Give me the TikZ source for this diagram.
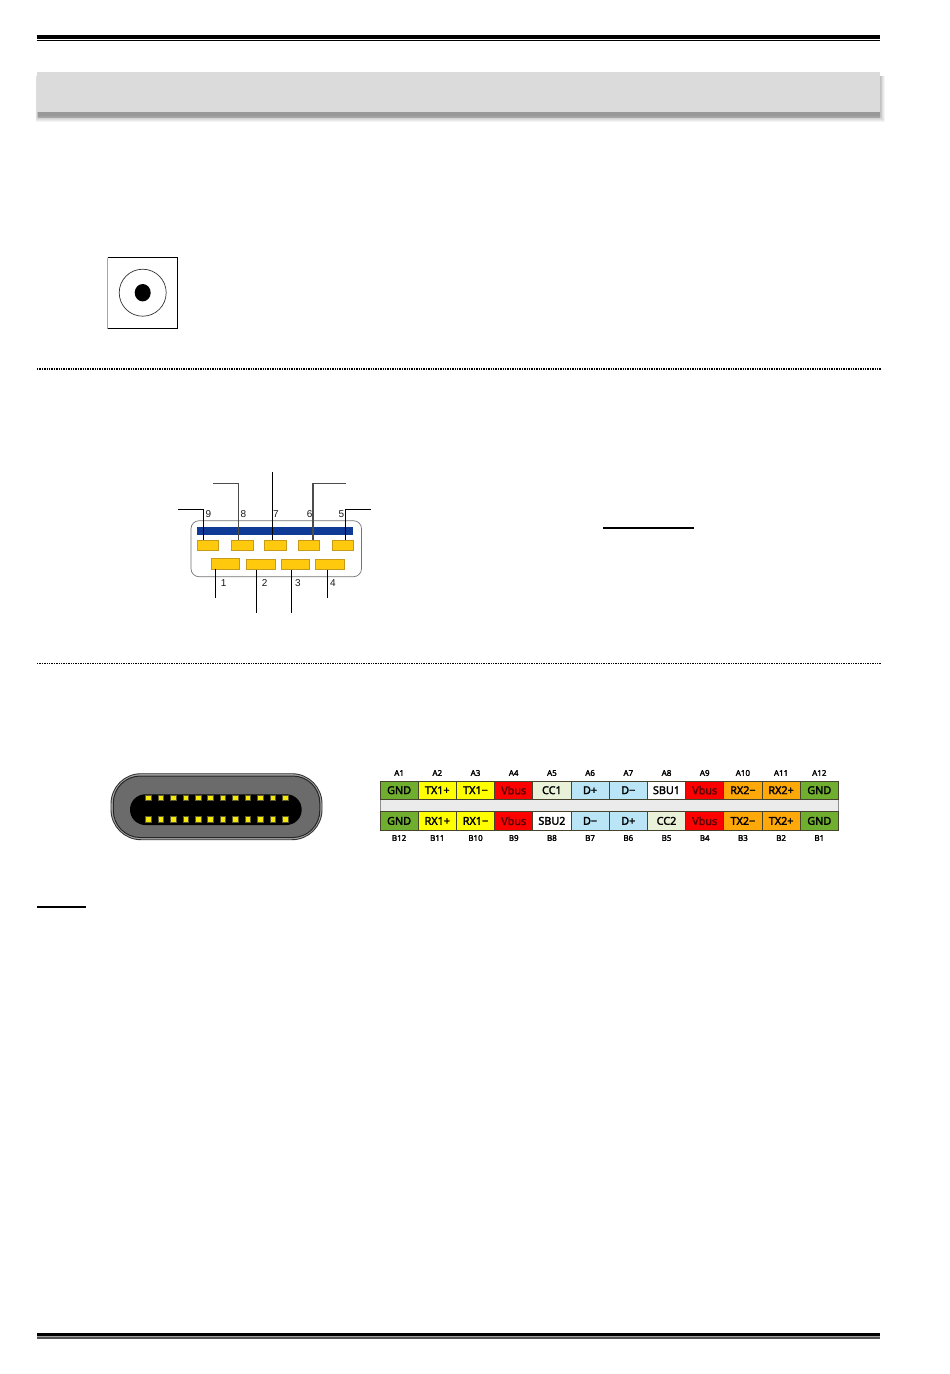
\documentclass[tikz,border=0pt]{standalone}
\usepackage{fontspec}
\setmainfont{Liberation Sans}
\newfontfamily\cellfont[FakeBold=2.2]{Noto Sans}
\definecolor{gndc}{HTML}{6FAE2E}
\definecolor{txc}{HTML}{FFFF00}
\definecolor{vbc}{HTML}{FF0000}
\definecolor{ccc}{HTML}{E9F2D8}
\definecolor{dc}{HTML}{B9E5F6}
\definecolor{sbc}{HTML}{FFFFFF}
\definecolor{rxc}{HTML}{FFA80A}
\definecolor{vbt}{HTML}{5A0000}
\definecolor{pinc}{HTML}{FFC90E}
\definecolor{pinb}{HTML}{C79A1A}
\definecolor{bluec}{HTML}{0F3A96}
\tikzset{
  x=1pt,y=-1pt,
  box/.style={inner sep=0pt,outer sep=0pt,anchor=north west},
  leader/.style={draw=black,line width=1pt},
  usbnum/.style={font=\fontsize{10}{11}\selectfont,text=black!90,inner sep=0pt},
  usbpin/.style={box,draw=pinb,line width=0.4pt,fill=pinc,minimum height=10.5pt},
  topnum/.style={font=\cellfont\fontsize{8}{9}\selectfont,inner sep=0pt,text=black},
  cell/.style={box,draw=black!65!olive,line width=0.8pt,minimum width=38.2pt,minimum height=18.4pt,font=\cellfont\fontsize{10.8}{11}\selectfont},
  cpin/.style={inner sep=0pt,minimum size=5.6pt,fill=yellow!95!black,draw=black!45!olive,line width=0.3pt},
  rule/.style={line width=1.2pt,black,dash pattern=on 1.4pt off 1pt},
  under/.style={line width=1.4pt,black}
}
\newcommand{\vb}{\textcolor{vbt}{Vbus}}
\begin{document}
\begin{tikzpicture}
\useasboundingbox (0,0) rectangle (950,1374);
\fill[white] (0,0) rectangle (950,1374);
% header rule
\coordinate (ha) at (36.5,37); \coordinate (hb) at (880,37);
\coordinate (hc) at (36.5,40.7); \coordinate (hd) at (880,40.7);
\draw[line width=4pt,black] (ha) -- (hb);
\draw[line width=0.9pt,black] (hc) -- (hd);
% banner shadow
\foreach \g in {6,5,4,3,2,1,0}{
  \fill[black,opacity=0.045] (37.5-\g*0.3,76) rectangle (880+\g*0.8,116+\g);
}
\fill[black,opacity=0.17] (38,112) rectangle (880,118);
\node[box,fill=black!14,minimum width=843.5pt,minimum height=40pt] (banner) at (36.5,72.3) {};
% DC jack
\node[box,minimum width=70pt,minimum height=71pt] (jack) at (107.7,257.7) {};
\draw[black!35,line width=0.7pt] (jack.north west) -- (jack.south west);
\draw[black,line width=1pt] (jack.north west) -- (jack.north east) -- (jack.south east) -- (jack.south west);
\node[circle,draw=black!80,line width=0.7pt,inner sep=0pt,minimum size=47pt] (jackring) at (142.7,292.7) {};
\fill[black] (142.7,292.7) ellipse [x radius=8pt,y radius=8.7pt];
% dotted rules
\coordinate (d1a) at (37,369); \coordinate (d1b) at (881,369);
\coordinate (d2a) at (37,663.4); \coordinate (d2b) at (881,663.4);
\draw[rule] (d1a) -- (d1b);
\draw[rule] (d2a) -- (d2b);
% USB3 connector
\node[box,draw=black!55,line width=0.7pt,rounded corners=8pt,minimum width=170.5pt,minimum height=56pt] (shell) at (191,520.7) {};
\node[box,fill=bluec,minimum width=156.3pt,minimum height=7.4pt] (bar) at (197,527.3) {};
\node[usbpin,minimum width=21.3pt] (p9) at (197.3,540) {};
\node[usbpin,minimum width=21.6pt] (p8) at (231.3,540) {};
\node[usbpin,minimum width=22pt] (p7) at (264.3,540) {};
\node[usbpin,minimum width=21.3pt] (p6) at (298.3,540) {};
\node[usbpin,minimum width=21.3pt] (p5) at (331.7,540) {};
\node[usbpin,minimum width=28.6pt] (p1) at (210.7,558.3) {};
\node[usbpin,minimum width=28.4pt] (p2) at (246.3,559) {};
\node[usbpin,minimum width=27.7pt] (p3) at (281.3,559) {};
\node[usbpin,minimum width=28.4pt] (p4) at (315.3,559) {};
% leaders
\coordinate (e9) at (178,509.5);  \coordinate (c9) at (203.5,540);
\coordinate (e8) at (213.3,483.5);\coordinate (c8) at (238.5,540);
\coordinate (e7) at (272.5,472);  \coordinate (c7) at (272.5,540);
\coordinate (e6) at (346,483.5);  \coordinate (c6) at (313,540);
\coordinate (e5) at (370.7,509.5);\coordinate (c5) at (345.5,540);
\coordinate (c1) at (215.5,568.7);\coordinate (e1) at (215.5,597.7);
\coordinate (c2) at (256.5,569.5);\coordinate (e2) at (256.5,613.3);
\coordinate (c3) at (291.5,569.5);\coordinate (e3) at (291.5,613.3);
\coordinate (c4) at (327.5,569.5);\coordinate (e4) at (327.5,597.7);
\draw[leader] (e9) -| (c9);
\draw[leader,draw=black!70,line width=1.2pt] (e8) -| (c8);
\draw[leader] (e7) -- (c7);
\draw[leader,draw=black!70,line width=1.2pt] (e6) -| (c6);
\draw[leader] (e5) -| (c5);
\draw[leader] (c1) -- (e1);
\draw[leader] (c2) -- (e2);
\draw[leader] (c3) -- (e3);
\draw[leader] (c4) -- (e4);
\node[usbnum] (n9) at (208.3,514) {9};
\node[usbnum] (n8) at (243.3,514) {8};
\node[usbnum] (n7) at (276,514) {7};
\node[usbnum] (n6) at (309.7,514) {6};
\node[usbnum] (n5) at (341.3,514) {5};
\node[usbnum] (n1) at (223.7,582.7) {1};
\node[usbnum] (n2) at (264.7,582.7) {2};
\node[usbnum] (n3) at (298,582.7) {3};
\node[usbnum] (n4) at (333,582.7) {4};
% underlines
\coordinate (u1a) at (603.3,528); \coordinate (u1b) at (694.3,528);
\coordinate (u2a) at (37,907); \coordinate (u2b) at (86,907);
\draw[under] (u1a) -- (u1b);
\draw[under] (u2a) -- (u2b);
% USB-C receptacle
\node[box,draw=black!80,line width=0.9pt,fill=black!35,rounded corners=30pt,minimum width=211pt,minimum height=66pt] (cshell) at (111,773.7) {};
\node[box,draw=black!85,line width=1pt,fill=black!58,rounded corners=27pt,minimum width=206.5pt,minimum height=61.5pt] (cbody) at (113.3,776) {};
\node[box,fill=black,rounded corners=15.3pt,minimum width=171.7pt,minimum height=30.7pt] (ctongue) at (130,794.3) {};
\foreach \i in {0,...,11}{
  \node[cpin] (ct\i) at (148.3+12.42*\i,797.8) {};
  \node[cpin] (cb\i) at (148.3+12.42*\i,819) {};
}
% pin table
\fill[black!8] (380,799) rectangle (838.4,812);
\draw[black!45,line width=0.5pt] (838.4,799) -- (838.4,812) (380,799) -- (380,812);
\foreach \i/\c/\t/\tl/\bc/\bt/\bl in {
 0/gndc/GND/A1/gndc/GND/B12,
 1/txc/TX1+/A2/txc/RX1+/B11,
 2/txc/TX1−/A3/txc/RX1−/B10,
 3/vbc/\vb/A4/vbc/\vb/B9,
 4/ccc/CC1/A5/sbc/SBU2/B8,
 5/dc/D+/A6/dc/D−/B7,
 6/dc/D−/A7/dc/D+/B6,
 7/sbc/SBU1/A8/ccc/CC2/B5,
 8/vbc/\vb/A9/vbc/\vb/B4,
 9/rxc/RX2−/A10/rxc/TX2−/B3,
 10/rxc/RX2+/A11/rxc/TX2+/B2,
 11/gndc/GND/A12/gndc/GND/B1}{
  \node[cell,fill=\c] (ta\i) at (380+38.2*\i,781) {\t};
  \node[cell,fill=\bc] (tb\i) at (380+38.2*\i,811.7) {\bt};
  \node[topnum] (la\i) at (399.1+38.2*\i,773) {\tl};
  \node[topnum] (lb\i) at (399.1+38.2*\i,838) {\bl};
}
% footer rule
\fill[black!68] (36.5,1336) rectangle (880,1339);
\fill[black!38] (36.5,1335.5) rectangle (880,1336.5);
\fill[black] (36.5,1332.7) rectangle (880,1335.6);
\end{tikzpicture}
\end{document}
